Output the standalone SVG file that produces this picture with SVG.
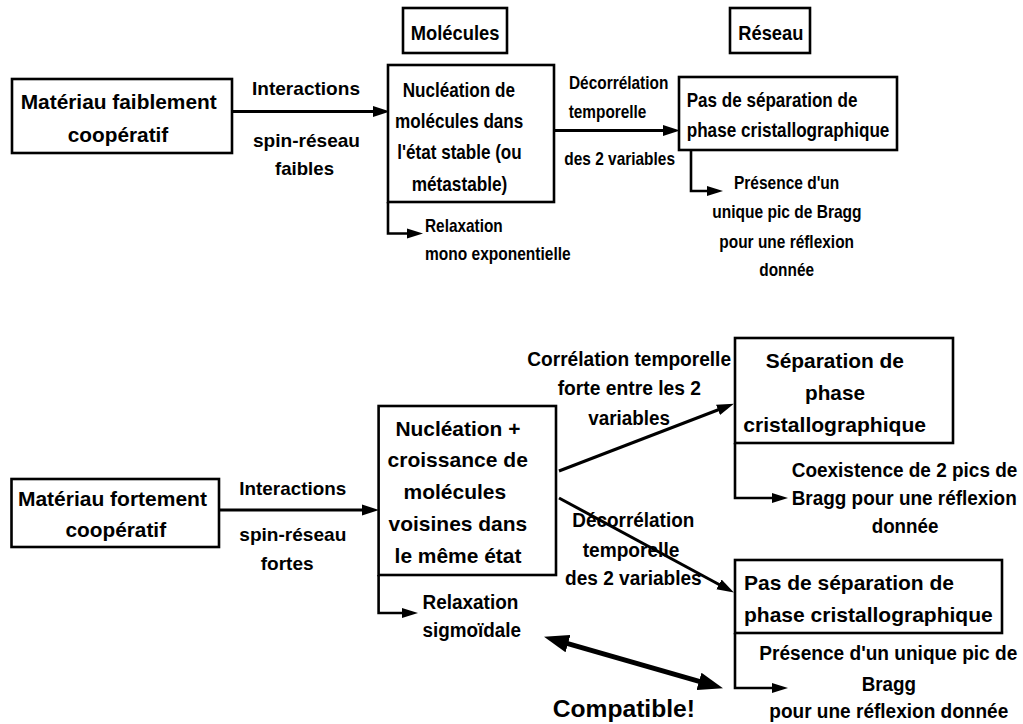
<svg xmlns="http://www.w3.org/2000/svg" width="1023" height="724" viewBox="0 0 1023 724">
<style>
text{font-family:"Liberation Sans",Arial,sans-serif;font-weight:bold;fill:#000}
.box{fill:#fff;stroke:#000;stroke-width:2.6}
.ln{fill:none;stroke:#000;stroke-width:3}
.br{fill:none;stroke:#000;stroke-width:2.6}
.thick{fill:none;stroke:#000;stroke-width:5}
</style>
<defs>
<marker id="ah" markerUnits="userSpaceOnUse" markerWidth="20" markerHeight="12" refX="8" refY="6" orient="auto"><path d="M0,0.5 L17,6 L0,11.5 z" fill="#000"/></marker>
<marker id="ahs" markerUnits="userSpaceOnUse" markerWidth="20" markerHeight="12" refX="8" refY="6" orient="auto"><path d="M0,1 L16,6 L0,11 z" fill="#000"/></marker>
<marker id="ahb" markerUnits="userSpaceOnUse" markerWidth="26" markerHeight="18" refX="12" refY="9" orient="auto-start-reverse"><path d="M0,0 L25,9 L0,18 z" fill="#000"/></marker>
</defs>
<rect width="1023" height="724" fill="#fff"/>

<g id="connectors">
<line class="ln" x1="232" y1="111.5" x2="381" y2="111.5" marker-end="url(#ah)"/>
<line class="ln" x1="554" y1="130.5" x2="671" y2="130.5" marker-end="url(#ah)"/>
<path class="br" d="M388,202 V233.5 H415" marker-end="url(#ahs)"/>
<path class="br" d="M691,150 V191 H715" marker-end="url(#ahs)"/>
<line class="ln" x1="219" y1="510" x2="370" y2="510" marker-end="url(#ah)"/>
<path class="br" d="M378.6,575 V613 H410" marker-end="url(#ahs)"/>
<line class="ln" x1="559" y1="471" x2="725.5" y2="407" marker-end="url(#ah)"/>
<line class="ln" x1="559" y1="498" x2="726" y2="588.2" marker-end="url(#ah)"/>
<path class="br" d="M735,443 V498 H780" marker-end="url(#ahs)"/>
<path class="br" d="M735,633 V688 H780" marker-end="url(#ahs)"/>
<line class="thick" x1="556.5" y1="640.3" x2="710.5" y2="684.7" marker-start="url(#ahb)" marker-end="url(#ahb)"/>
<text x="252" y="95" font-size="19" textLength="108" lengthAdjust="spacingAndGlyphs">Interactions</text>
<text x="253" y="146.5" font-size="19" textLength="107" lengthAdjust="spacingAndGlyphs">spin-réseau</text>
<text x="275" y="175" font-size="19" textLength="59" lengthAdjust="spacingAndGlyphs">faibles</text>
<text x="569" y="89" font-size="19" textLength="99.3" lengthAdjust="spacingAndGlyphs">Décorrélation</text>
<text x="568.7" y="118.3" font-size="19" textLength="77.7" lengthAdjust="spacingAndGlyphs">temporelle</text>
<text x="564.3" y="165" font-size="19" textLength="110.7" lengthAdjust="spacingAndGlyphs">des 2 variables</text>
<text x="239.3" y="495" font-size="19" textLength="107" lengthAdjust="spacingAndGlyphs">Interactions</text>
<text x="239.3" y="541" font-size="19" textLength="107" lengthAdjust="spacingAndGlyphs">spin-réseau</text>
<text x="260.7" y="570" font-size="19" textLength="52.9" lengthAdjust="spacingAndGlyphs">fortes</text>
<text x="527.3" y="366" font-size="19.5" textLength="203.7" lengthAdjust="spacingAndGlyphs">Corrélation temporelle</text>
<text x="557.7" y="395" font-size="19.5" textLength="143.3" lengthAdjust="spacingAndGlyphs">forte entre les 2</text>
<text x="588.3" y="425" font-size="19.5" textLength="81.7" lengthAdjust="spacingAndGlyphs">variables</text>
<text x="572.3" y="527" font-size="19.5" textLength="122" lengthAdjust="spacingAndGlyphs">Décorrélation</text>
<text x="582.7" y="557" font-size="19.5" textLength="96.7" lengthAdjust="spacingAndGlyphs">temporelle</text>
<text x="565" y="585" font-size="19.5" textLength="136.7" lengthAdjust="spacingAndGlyphs">des 2 variables</text>
<text x="552.7" y="717" font-size="24" textLength="142.3" lengthAdjust="spacingAndGlyphs">Compatible!</text>
</g>

<g id="n-faible">
<rect class="box" x="12" y="79" width="220" height="74"/>
<text x="20.7" y="109" font-size="20" textLength="196" lengthAdjust="spacingAndGlyphs">Matériau faiblement</text>
<text x="67.7" y="141.5" font-size="20" textLength="100.6" lengthAdjust="spacingAndGlyphs">coopératif</text>
</g>

<g id="n-molecules">
<rect class="box" x="403" y="8" width="104" height="45"/>
<text x="410.7" y="40" font-size="21" textLength="88.7" lengthAdjust="spacingAndGlyphs">Molécules</text>
</g>

<g id="n-reseau">
<rect class="box" x="730" y="8" width="80" height="45"/>
<text x="738.3" y="40" font-size="21" textLength="65" lengthAdjust="spacingAndGlyphs">Réseau</text>
</g>

<g id="n-nucleation1">
<rect class="box" x="388" y="65" width="166" height="137"/>
<text x="402.7" y="96.7" font-size="21" textLength="112.3" lengthAdjust="spacingAndGlyphs">Nucléation de</text>
<text x="395" y="128.3" font-size="21" textLength="128.3" lengthAdjust="spacingAndGlyphs">molécules dans</text>
<text x="397.3" y="159.3" font-size="21" textLength="124.4" lengthAdjust="spacingAndGlyphs">l'état stable (ou</text>
<text x="411.7" y="190.7" font-size="21" textLength="95.6" lengthAdjust="spacingAndGlyphs">métastable)</text>
</g>

<g id="n-pas1">
<rect class="box" x="679" y="77" width="218" height="73"/>
<text x="686.7" y="106.7" font-size="20.5" textLength="170.7" lengthAdjust="spacingAndGlyphs">Pas de séparation de</text>
<text x="686.7" y="137.3" font-size="20.5" textLength="202.7" lengthAdjust="spacingAndGlyphs">phase cristallographique</text>
</g>

<g id="n-relax1">
<text x="425" y="231.7" font-size="19" textLength="77.7" lengthAdjust="spacingAndGlyphs">Relaxation</text>
<text x="425" y="260" font-size="19" textLength="145.7" lengthAdjust="spacingAndGlyphs">mono exponentielle</text>
</g>

<g id="n-presence1">
<text x="734" y="189" font-size="19" textLength="105.3" lengthAdjust="spacingAndGlyphs">Présence d'un</text>
<text x="712.3" y="218" font-size="19" textLength="149.3" lengthAdjust="spacingAndGlyphs">unique pic de Bragg</text>
<text x="719.3" y="247.5" font-size="19" textLength="134.7" lengthAdjust="spacingAndGlyphs">pour une réflexion</text>
<text x="759.3" y="275.5" font-size="19" textLength="54.7" lengthAdjust="spacingAndGlyphs">donnée</text>
</g>

<g id="n-fort">
<rect class="box" x="11.5" y="479" width="207.5" height="68"/>
<text x="17.9" y="506" font-size="20" textLength="189" lengthAdjust="spacingAndGlyphs">Matériau fortement</text>
<text x="65.4" y="537" font-size="20" textLength="100.7" lengthAdjust="spacingAndGlyphs">coopératif</text>
</g>

<g id="n-nucleation2">
<rect class="box" x="378.6" y="406" width="177.4" height="169"/>
<text x="395.4" y="436" font-size="21" textLength="125" lengthAdjust="spacingAndGlyphs">Nucléation +</text>
<text x="387.5" y="467" font-size="21" textLength="140.4" lengthAdjust="spacingAndGlyphs">croissance de</text>
<text x="403.6" y="499" font-size="21" textLength="102.5" lengthAdjust="spacingAndGlyphs">molécules</text>
<text x="388.6" y="531" font-size="21" textLength="138.6" lengthAdjust="spacingAndGlyphs">voisines dans</text>
<text x="394.6" y="563" font-size="21" textLength="126.8" lengthAdjust="spacingAndGlyphs">le même état</text>
</g>

<g id="n-relax2">
<text x="422.5" y="609" font-size="20" textLength="95.8" lengthAdjust="spacingAndGlyphs">Relaxation</text>
<text x="422.5" y="637" font-size="20" textLength="98.6" lengthAdjust="spacingAndGlyphs">sigmoïdale</text>
</g>

<g id="n-separation">
<rect class="box" x="735" y="338" width="218" height="105"/>
<text x="765.7" y="368" font-size="21" textLength="138.3" lengthAdjust="spacingAndGlyphs">Séparation de</text>
<text x="805" y="400" font-size="21" textLength="60" lengthAdjust="spacingAndGlyphs">phase</text>
<text x="743.3" y="432" font-size="21" textLength="182.7" lengthAdjust="spacingAndGlyphs">cristallographique</text>
</g>

<g id="n-coexistence">
<text x="791.7" y="476.5" font-size="19.5" textLength="225.7" lengthAdjust="spacingAndGlyphs">Coexistence de 2 pics de</text>
<text x="791.7" y="505" font-size="19.5" textLength="225" lengthAdjust="spacingAndGlyphs">Bragg pour une réflexion</text>
<text x="871.7" y="533.3" font-size="19.5" textLength="66.7" lengthAdjust="spacingAndGlyphs">donnée</text>
</g>

<g id="n-pas2">
<rect class="box" x="735" y="560" width="267" height="73"/>
<text x="744" y="590" font-size="21" textLength="210" lengthAdjust="spacingAndGlyphs">Pas de séparation de</text>
<text x="744" y="621.5" font-size="21" textLength="248.7" lengthAdjust="spacingAndGlyphs">phase cristallographique</text>
</g>

<g id="n-presence2">
<text x="759.3" y="660" font-size="19.5" textLength="258" lengthAdjust="spacingAndGlyphs">Présence d'un unique pic de</text>
<text x="861.7" y="690.5" font-size="19.5" textLength="54.3" lengthAdjust="spacingAndGlyphs">Bragg</text>
<text x="769.3" y="718" font-size="19.5" textLength="239" lengthAdjust="spacingAndGlyphs">pour une réflexion donnée</text>
</g>
</svg>
